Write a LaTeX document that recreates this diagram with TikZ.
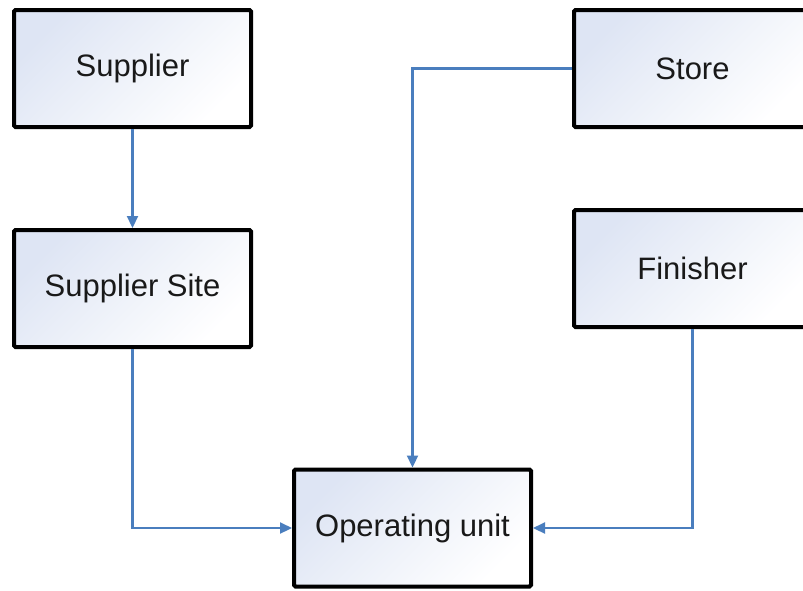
\documentclass[tikz,border=0pt]{standalone}
\usepackage{fontspec}
\setmainfont{Liberation Sans}
\usetikzlibrary{arrows.meta}
\definecolor{boxtop}{RGB}{222,229,244}
\definecolor{boxmid}{RGB}{243,246,251}
\definecolor{linkblue}{RGB}{74,126,190}
\begin{document}
\begin{tikzpicture}[x=1pt, y=-1pt, >={Triangle[length=12pt,width=11pt]},
        unit/.style={draw=black, line width=4pt, rounded corners=1.5pt,
            minimum width=237pt, minimum height=117pt,
            top color=boxtop, middle color=boxmid, bottom color=white, shading angle=45,
            font=\fontsize{31}{37}\selectfont, text=black!90},
        link/.style={->, draw=linkblue, line width=2.2pt}]
        \useasboundingbox[fill=white] (0,0) rectangle (803,590);

        % boxes
        \node[unit] (sup) at (132.5,68.5) {Supplier};
        \node[unit] (site) at (132.5,288.5) {Supplier Site};
        \node[unit] (store) at (692.5,68.5) {Store};
        \node[unit] (fin) at (692.5,268.5) {Finisher};
        \node[unit] (op) at (412.5,528) {Operating unit};

        % links into the operating unit
        \draw[link] (sup) -- (site);
        \draw[link] (site.south) |- (op.west);
        \draw[link] (store.west) -| (op.north);
        \draw[link] (fin.south) |- (op.east);
    \end{tikzpicture}
\end{document}
